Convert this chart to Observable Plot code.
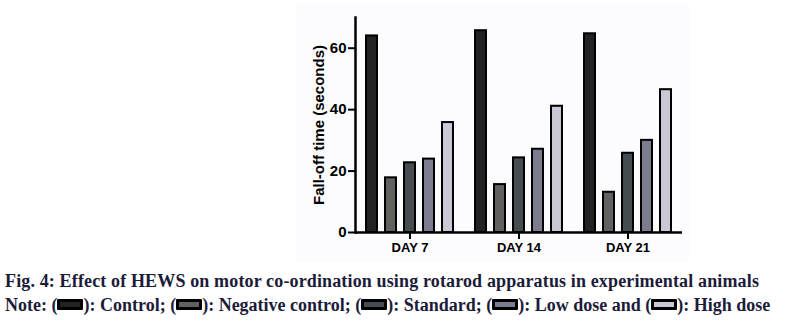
<!DOCTYPE html>
<html>
<head>
<meta charset="utf-8">
<script src="https://cdn.jsdelivr.net/npm/d3@7"></script>
<script src="https://cdn.jsdelivr.net/npm/@observablehq/plot@0.6"></script>
<style>
  html, body { margin: 0; padding: 0; background: #ffffff; }
  #page { position: relative; width: 788px; height: 324px; overflow: hidden; }
  #chart { position: absolute; left: 296px; top: 4px; }
  #caption { position: absolute; left: 5px; top: 269px; width: 783px;
    font-family: "Liberation Serif", "Times New Roman", serif; font-weight: bold;
    font-size: 18px; line-height: 24px; color: #1c1c3a; white-space: nowrap; }
  #caption .l1 { letter-spacing: 0.14px; }
  .sw { display: inline-block; width: 20px; height: 5px; border: 3px solid #000;
    border-radius: 1px; vertical-align: 1px; }
</style>
</head>
<body>
<div id="page">
  <div id="chart"></div>
  <div id="caption"></div>
</div>
<script>
const days = ["DAY 7", "DAY 14", "DAY 21"];
const groups = ["Control", "Negative control", "Standard", "Low dose", "High dose"];
const control = [64.0, 65.7, 64.7];
const negativeControl = [17.8, 15.6, 13.1];
const standard = [22.7, 24.3, 25.8];
const lowDose = [23.9, 27.1, 30.0];
const highDose = [35.8, 41.1, 46.5];
const groupColors = ["#222222", "#636160", "#454d50", "#7b7c8e", "#c9c9d5"];
const yTicks = [0, 20, 40, 60];

const series = [control, negativeControl, standard, lowDose, highDose];
const data = [];
days.forEach((day, i) => {
  groups.forEach((g, j) => data.push({day, group: g, value: series[j][i]}));
});

const chart = Plot.plot({
  width: 393,
  height: 258,
  marginLeft: 59,
  marginRight: 7,
  marginTop: 13,
  marginBottom: 30,
  style: {background: "#fcfbfd", fontFamily: "Liberation Sans, Arial, sans-serif", fontWeight: "bold", color: "#000"},
  fx: {domain: days, padding: 0, axis: null},
  x: {domain: groups, paddingInner: 0.43, paddingOuter: 0.545, axis: null},
  y: {domain: [0, 70], axis: null},
  color: {domain: groups, range: groupColors},
  marks: [
    Plot.barY(data, {fx: "day", x: "group", y: "value", fill: "group", stroke: "#000", strokeWidth: 2}),
    Plot.ruleY([0], {stroke: "#000", strokeWidth: 2.5}),
    Plot.frame({anchor: "left", facetAnchor: "left", stroke: "#000", strokeWidth: 2.5}),
    Plot.axisY({ticks: yTicks, tickSize: 7, tickPadding: 2, strokeWidth: 2, fontSize: 15,
      label: "Fall-off time (seconds)", labelAnchor: "center", labelArrow: "none", labelOffset: 42}),
    Plot.axisFx({anchor: "bottom", tickSize: 7, tickPadding: 3, strokeWidth: 2, fontSize: 13, label: null})
  ]
});
document.getElementById("chart").appendChild(chart);

const cap = document.getElementById("caption");
const line1 = document.createElement("div");
line1.className = "l1";
line1.textContent = "Fig. 4: Effect of HEWS on motor co-ordination using rotarod apparatus in experimental animals";
cap.appendChild(line1);
const line2 = document.createElement("div");
line2.appendChild(document.createTextNode("Note: "));
groups.forEach((g, j) => {
  line2.appendChild(document.createTextNode("("));
  const s = document.createElement("span");
  s.className = "sw";
  s.style.background = groupColors[j];
  line2.appendChild(s);
  const sep = j === groups.length - 1 ? "" : (j === groups.length - 2 ? " and " : "; ");
  line2.appendChild(document.createTextNode("): " + g + sep));
});
cap.appendChild(line2);
</script>
</body>
</html>
